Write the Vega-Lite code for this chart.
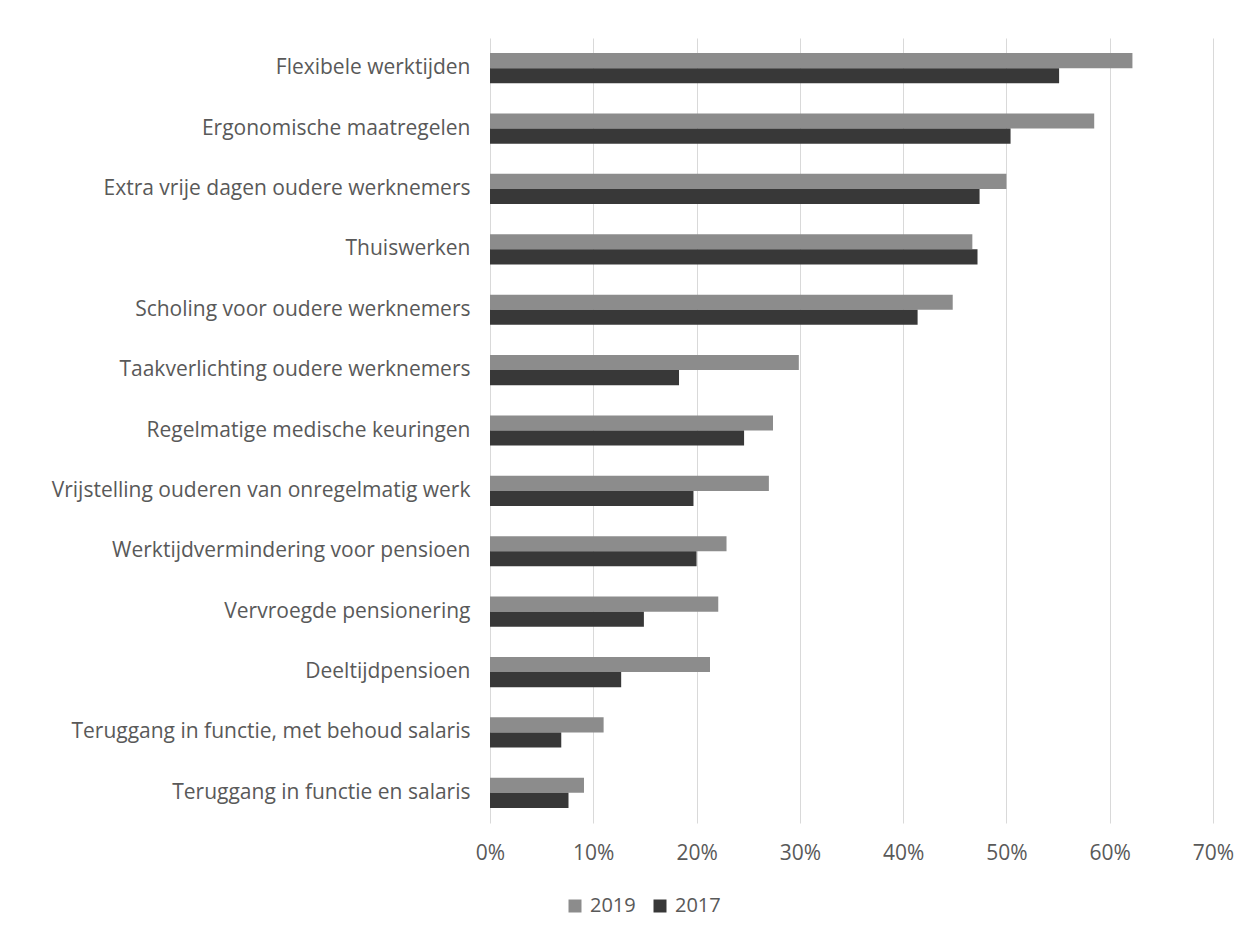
{
  "$schema": "https://vega.github.io/schema/vega-lite/v6.json",
  "autosize": "none",
  "padding": {"left": 490, "top": 38, "right": 47, "bottom": 120},
  "width": 723,
  "height": 785,
  "background": "white",
  "config": {
    "view": {"stroke": null},
    "font": "Open Sans"
  },
  "data": {
    "values": [
      {"cat": "Flexibele werktijden", "year": "2019", "v": 0.622},
      {"cat": "Flexibele werktijden", "year": "2017", "v": 0.551},
      {"cat": "Ergonomische maatregelen", "year": "2019", "v": 0.585},
      {"cat": "Ergonomische maatregelen", "year": "2017", "v": 0.504},
      {"cat": "Extra vrije dagen oudere werknemers", "year": "2019", "v": 0.500},
      {"cat": "Extra vrije dagen oudere werknemers", "year": "2017", "v": 0.474},
      {"cat": "Thuiswerken", "year": "2019", "v": 0.467},
      {"cat": "Thuiswerken", "year": "2017", "v": 0.472},
      {"cat": "Scholing voor oudere werknemers", "year": "2019", "v": 0.448},
      {"cat": "Scholing voor oudere werknemers", "year": "2017", "v": 0.414},
      {"cat": "Taakverlichting oudere werknemers", "year": "2019", "v": 0.299},
      {"cat": "Taakverlichting oudere werknemers", "year": "2017", "v": 0.183},
      {"cat": "Regelmatige medische keuringen", "year": "2019", "v": 0.274},
      {"cat": "Regelmatige medische keuringen", "year": "2017", "v": 0.246},
      {"cat": "Vrijstelling ouderen van onregelmatig werk", "year": "2019", "v": 0.270},
      {"cat": "Vrijstelling ouderen van onregelmatig werk", "year": "2017", "v": 0.197},
      {"cat": "Werktijdvermindering voor pensioen", "year": "2019", "v": 0.229},
      {"cat": "Werktijdvermindering voor pensioen", "year": "2017", "v": 0.200},
      {"cat": "Vervroegde pensionering", "year": "2019", "v": 0.221},
      {"cat": "Vervroegde pensionering", "year": "2017", "v": 0.149},
      {"cat": "Deeltijdpensioen", "year": "2019", "v": 0.213},
      {"cat": "Deeltijdpensioen", "year": "2017", "v": 0.127},
      {"cat": "Teruggang in functie, met behoud salaris", "year": "2019", "v": 0.110},
      {"cat": "Teruggang in functie, met behoud salaris", "year": "2017", "v": 0.069},
      {"cat": "Teruggang in functie en salaris", "year": "2019", "v": 0.091},
      {"cat": "Teruggang in functie en salaris", "year": "2017", "v": 0.076}
    ]
  },
  "mark": {"type": "bar"},
  "encoding": {
    "y": {
      "field": "cat",
      "type": "nominal",
      "sort": null,
      "scale": {"paddingInner": 0.5, "paddingOuter": 0.25},
      "axis": {
        "title": null,
        "domain": false,
        "ticks": false,
        "labelPadding": 20,
        "labelFontSize": 21,
        "labelColor": "#595959",
        "labelLimit": 490
      }
    },
    "yOffset": {
      "field": "year",
      "type": "nominal",
      "sort": ["2019", "2017"]
    },
    "x": {
      "field": "v",
      "type": "quantitative",
      "scale": {"domain": [0, 0.7], "nice": false},
      "axis": {
        "title": null,
        "format": ".0%",
        "values": [0, 0.1, 0.2, 0.3, 0.4, 0.5, 0.6, 0.7],
        "domain": false,
        "ticks": false,
        "labelFlush": false,
        "gridColor": "#d9d9d9",
        "gridWidth": 1,
        "labelPadding": 19,
        "labelFontSize": 21,
        "labelColor": "#595959"
      }
    },
    "color": {
      "field": "year",
      "type": "nominal",
      "sort": ["2019", "2017"],
      "scale": {"domain": ["2019", "2017"], "range": ["#8c8c8c", "#383838"]},
      "legend": {
        "title": null,
        "orient": "none",
        "direction": "horizontal",
        "legendX": 75,
        "legendY": 858,
        "symbolType": "square",
        "symbolSize": 169,
        "symbolStrokeWidth": 0,
        "labelFontSize": 20,
        "labelColor": "#595959",
        "columnPadding": 14,
        "labelOffset": 5
      }
    }
  }
}
